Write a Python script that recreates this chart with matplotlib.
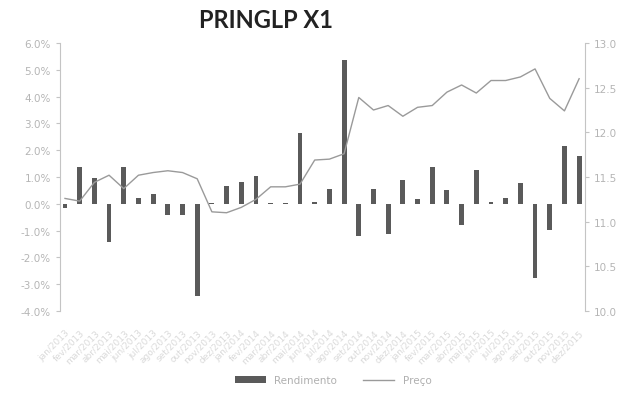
import matplotlib
matplotlib.use("Agg")
import matplotlib.pyplot as plt
import numpy as np

title = "PRINGLP X1"
dates = ["jan/2013", "fev/2013", "mar/2013", "abr/2013", "mai/2013", "jun/2013", "jul/2013",
         "ago/2013", "set/2013", "out/2013", "nov/2013", "dez/2013", "jan/2014", "fev/2014",
         "mar/2014", "abr/2014", "mai/2014", "jun/2014", "jul/2014", "ago/2014", "set/2014",
         "out/2014", "nov/2014", "dez/2014", "jan/2015", "fev/2015", "mar/2015", "abr/2015",
         "mai/2015", "jun/2015", "jul/2015", "ago/2015", "set/2015", "out/2015", "nov/2015",
         "dez/2015"]
rendimento = [-0.15, 1.36, 0.96, -1.43, 1.37, 0.21, 0.36, -0.41, -0.41, -3.43, 0.02, 0.68,
              0.81, 1.02, 0.04, 0.02, 2.64, 0.05, 0.56, 5.35, -1.22, 0.56, -1.12, 0.9,
              0.19, 1.36, 0.52, -0.78, 1.27, 0.06, 0.21, 0.77, -2.75, -0.97, 2.16, 1.77]
preco = [11.26, 11.23, 11.44, 11.52, 11.37, 11.52, 11.55, 11.57, 11.55, 11.48, 11.11, 11.10,
         11.16, 11.25, 11.39, 11.39, 11.42, 11.69, 11.70, 11.76, 12.39, 12.25, 12.30, 12.18,
         12.28, 12.30, 12.45, 12.53, 12.44, 12.58, 12.58, 12.62, 12.71, 12.38, 12.24, 12.60]
left_ticks = [6, 5, 4, 3, 2, 1, 0, -1, -2, -3, -4]
right_ticks = [13.0, 12.5, 12.0, 11.5, 11.0, 10.5, 10.0]

fig = plt.figure(figsize=(6.27, 4.02), dpi=100)
ax = fig.add_axes([60/627, 1-312/402, (585-60)/627, (312-44)/402])
ax2 = ax.twinx()

x = np.arange(len(dates))
ax.bar(x, rendimento, width=0.33, color="#5a5a5a", label="Rendimento", zorder=2)
ax2.plot(x, preco, color="#9a9a9a", lw=1.0, label="Preço", zorder=3)

ax.set_xlim(-0.34, 35.4)
ax.set_ylim(-4, 6)
ax2.set_ylim(10, 13)
ax.set_yticks(left_ticks)
ax.set_yticklabels([f"{v:.1f}%" for v in left_ticks])
ax2.set_yticks(right_ticks)
ax2.set_yticklabels([f"{v:.1f}" for v in right_ticks])

light = "#c4c4c4"
for a in (ax, ax2):
    for s in ("top", "bottom"):
        a.spines[s].set_visible(False)
    a.spines["left"].set_color(light)
    a.spines["right"].set_color(light)
    a.tick_params(axis="y", colors=light, labelsize=7.5, length=3, width=0.8, labelcolor="#b5b5b5")
ax2.spines["left"].set_visible(False)
ax.spines["right"].set_visible(False)

ax.set_xticks(x)
ax.set_xticklabels(dates, rotation=45, ha="right", rotation_mode="anchor",
                   fontsize=6.5, color="#dadada")
ax.tick_params(axis="x", length=0, pad=12)

fig.text(266/627, 1-20/402, title, ha="center", va="center", fontsize=17,
         fontweight="bold", family="Lato", color="#222222")

h1, l1 = ax.get_legend_handles_labels()
h2, l2 = ax2.get_legend_handles_labels()
fig.legend(h1 + h2, l1 + l2, loc="center", bbox_to_anchor=(333/627, 1-381/402),
           ncol=2, frameon=False, fontsize=7.5, labelcolor="#b0b0b0",
           handlelength=3.0, handleheight=0.6, columnspacing=2.5)

fig.savefig("out.png", dpi=100, facecolor="white")
